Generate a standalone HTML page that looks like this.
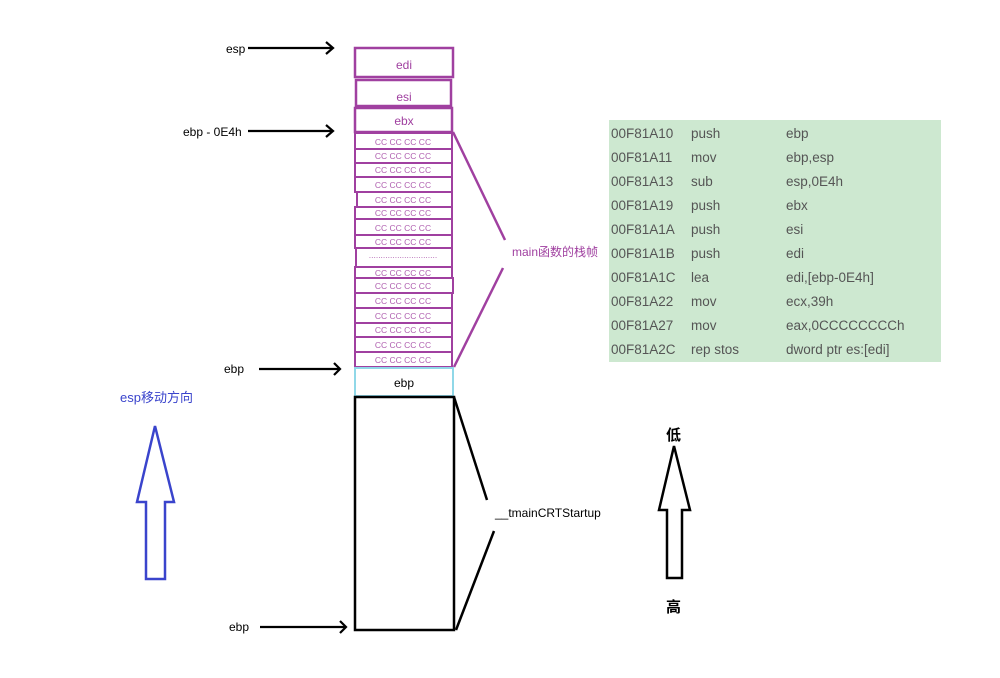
<!DOCTYPE html>
<html><head><meta charset="utf-8"><style>
html,body{margin:0;padding:0;background:#fff;width:1000px;height:678px;overflow:hidden}
text{font-family:"Liberation Sans","Noto Sans CJK SC",sans-serif}
.m{font-family:"Liberation Mono","DejaVu Sans Mono",monospace;font-size:13.5px;fill:#555}
</style></head><body>
<svg width="1000" height="678" viewBox="0 0 1000 678" xmlns="http://www.w3.org/2000/svg">
<g fill="none" stroke="#a040a0" stroke-width="2.5">
<rect x="355" y="48" width="98" height="29"/>
<rect x="356" y="80" width="95" height="26"/>
<rect x="355" y="108" width="97" height="24"/>
</g>
<g font-size="12" fill="#a040a0" text-anchor="middle">
<text x="404" y="69">edi</text>
<text x="404" y="101">esi</text>
<text x="404" y="125">ebx</text>
</g>
<g id="cells" fill="none" stroke="#a040a0" stroke-width="2">
<rect x="355" y="133" width="97" height="16"/>
<rect x="355" y="149" width="97" height="14"/>
<rect x="355" y="163" width="97" height="14"/>
<rect x="355" y="177" width="97" height="15"/>
<rect x="357" y="192" width="95" height="15"/>
<rect x="355" y="207" width="97" height="12"/>
<rect x="355" y="219" width="97" height="16"/>
<rect x="355" y="235" width="97" height="13"/>
<rect x="356" y="248" width="96" height="19"/>
<rect x="355" y="267" width="97" height="11"/>
<rect x="355" y="278" width="98" height="15"/>
<rect x="355" y="293" width="97" height="15"/>
<rect x="355" y="308" width="97" height="15"/>
<rect x="355" y="323" width="97" height="14"/>
<rect x="355" y="337" width="97" height="15"/>
<rect x="355" y="352" width="97" height="15"/>
</g>
<g font-size="8.5" fill="#b060b0" text-anchor="middle">
<text x="403" y="145">CC CC CC CC</text>
<text x="403" y="159">CC CC CC CC</text>
<text x="403" y="173">CC CC CC CC</text>
<text x="403" y="188">CC CC CC CC</text>
<text x="403" y="203">CC CC CC CC</text>
<text x="403" y="216">CC CC CC CC</text>
<text x="403" y="231">CC CC CC CC</text>
<text x="403" y="245">CC CC CC CC</text>
<text x="403" y="258">.............................</text>
<text x="403" y="276">CC CC CC CC</text>
<text x="403" y="289">CC CC CC CC</text>
<text x="403" y="304">CC CC CC CC</text>
<text x="403" y="319">CC CC CC CC</text>
<text x="403" y="333">CC CC CC CC</text>
<text x="403" y="348">CC CC CC CC</text>
<text x="403" y="363">CC CC CC CC</text>
</g>
<rect x="355" y="368" width="98" height="28" fill="none" stroke="#90d8e8" stroke-width="2"/>
<text x="404" y="387" font-size="12" text-anchor="middle">ebp</text>
<rect x="355" y="397" width="99" height="233" fill="none" stroke="#000" stroke-width="2.5"/>
<g stroke="#a040a0" stroke-width="2.5">
<line x1="453" y1="132" x2="505" y2="240"/>
<line x1="503" y1="268" x2="454" y2="367"/>
</g>
<text x="512" y="256" font-size="12" fill="#a040a0">main函数的栈帧</text>
<g stroke="#000" stroke-width="2.5">
<line x1="454" y1="397" x2="487" y2="500"/>
<line x1="494" y1="531" x2="456" y2="630"/>
</g>
<text x="495" y="517" font-size="12">__tmainCRTStartup</text>
<g stroke="#000" stroke-width="2.2" fill="none">
<line x1="248" y1="48" x2="333" y2="48"/><polyline points="326,42 333,48 326,54"/>
<line x1="248" y1="131" x2="333" y2="131"/><polyline points="326,125 333,131 326,137"/>
<line x1="259" y1="369" x2="340" y2="369"/><polyline points="334,363 340,369 334,375"/>
<line x1="260" y1="627" x2="346" y2="627"/><polyline points="340,621 346,627 340,633"/>
</g>
<g font-size="12">
<text x="226" y="53">esp</text>
<text x="183" y="136">ebp - 0E4h</text>
<text x="224" y="373">ebp</text>
<text x="229" y="631">ebp</text>
</g>
<text x="120" y="402" font-size="13" fill="#3a44cc">esp移动方向</text>
<polygon points="155,426 174,502 165,502 165,579 146,579 146,502 137,502" fill="none" stroke="#3a44cc" stroke-width="2.5"/>
<polygon points="674,446 690,510 682,510 682,578 667,578 667,510 659,510" fill="none" stroke="#000" stroke-width="2.5"/>
<text x="666" y="440" font-size="15" font-weight="bold">低</text>
<text x="666" y="612" font-size="15" font-weight="bold">高</text>
<rect x="609" y="120" width="332" height="242" fill="#cde8d0"/>
<g class="m">
<text x="611" y="138">00F81A10</text><text x="691" y="138">push</text><text x="786" y="138">ebp</text>
<text x="611" y="162">00F81A11</text><text x="691" y="162">mov</text><text x="786" y="162">ebp,esp</text>
<text x="611" y="186">00F81A13</text><text x="691" y="186">sub</text><text x="786" y="186">esp,0E4h</text>
<text x="611" y="210">00F81A19</text><text x="691" y="210">push</text><text x="786" y="210">ebx</text>
<text x="611" y="234">00F81A1A</text><text x="691" y="234">push</text><text x="786" y="234">esi</text>
<text x="611" y="258">00F81A1B</text><text x="691" y="258">push</text><text x="786" y="258">edi</text>
<text x="611" y="282">00F81A1C</text><text x="691" y="282">lea</text><text x="786" y="282">edi,[ebp-0E4h]</text>
<text x="611" y="306">00F81A22</text><text x="691" y="306">mov</text><text x="786" y="306">ecx,39h</text>
<text x="611" y="330">00F81A27</text><text x="691" y="330">mov</text><text x="786" y="330">eax,0CCCCCCCCh</text>
<text x="611" y="354">00F81A2C</text><text x="691" y="354">rep stos</text><text x="786" y="354">dword ptr es:[edi]</text>
</g>
</svg>
</body></html>
